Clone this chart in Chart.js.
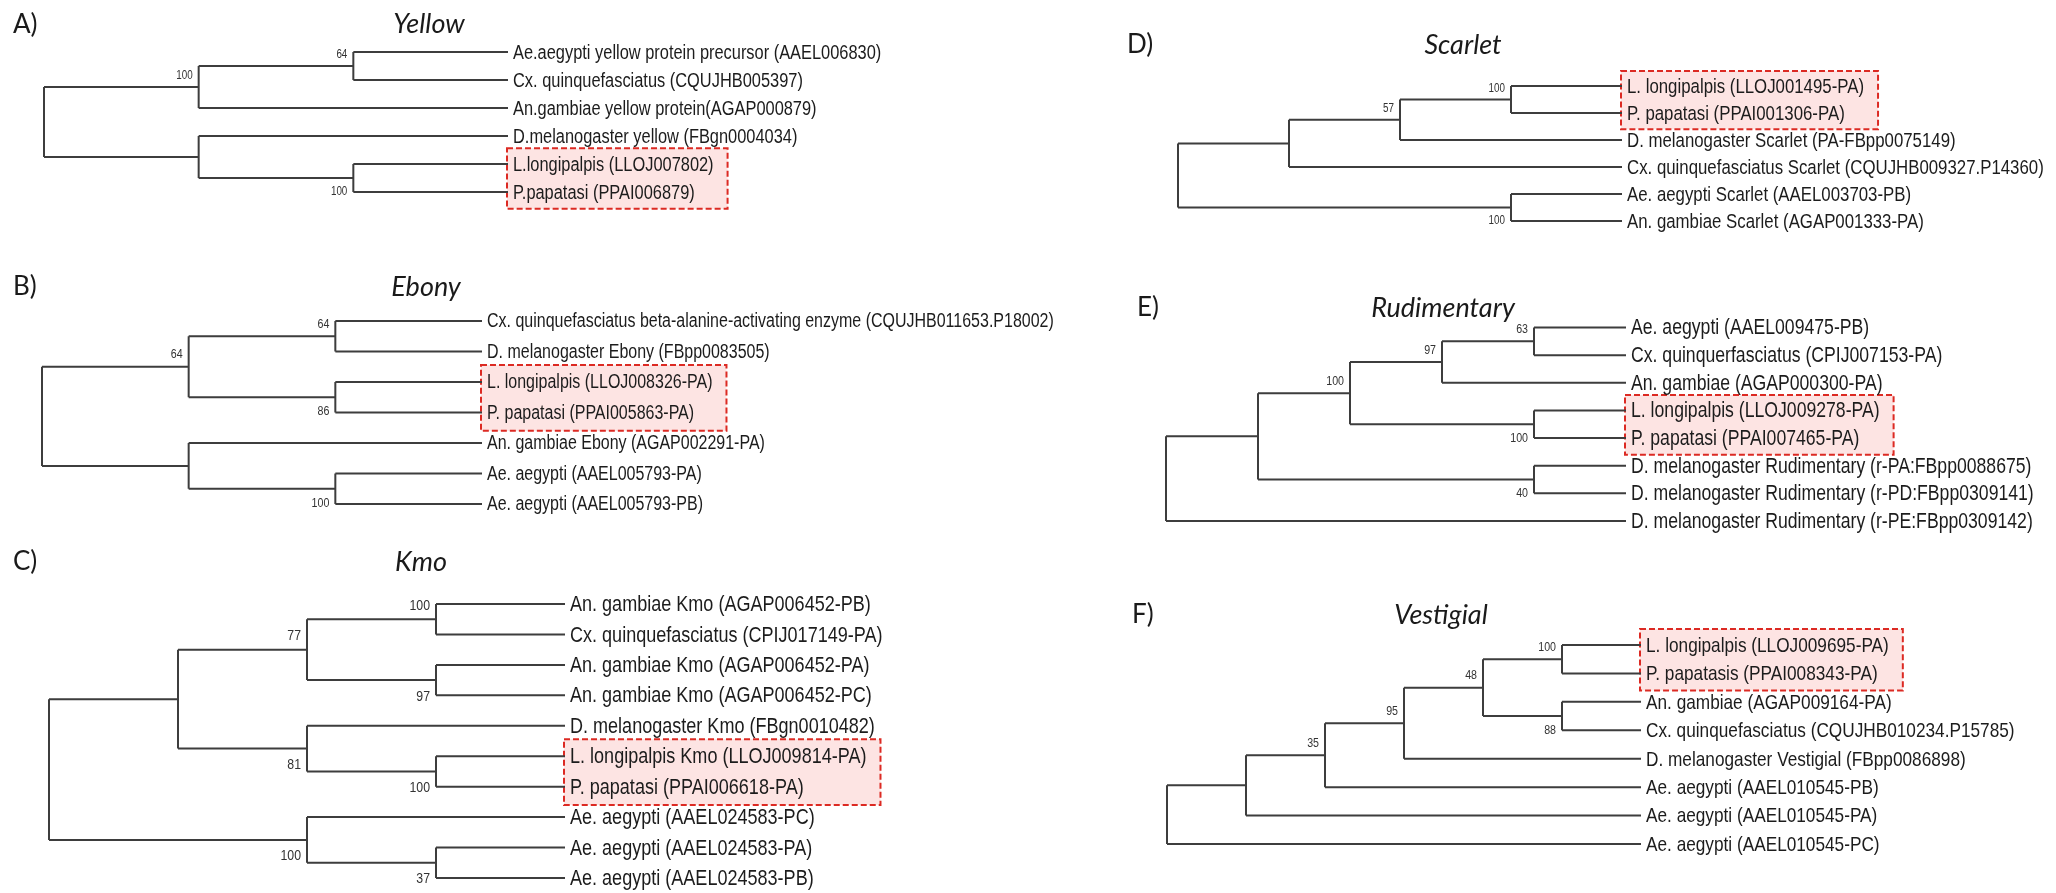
<!DOCTYPE html>
<html>
<head>
<meta charset="utf-8">
<script src="https://cdn.jsdelivr.net/npm/chart.js@4.4.1/dist/chart.umd.min.js"></script>
<style>
html, body { margin: 0; padding: 0; background: #fff; }
#page { position: relative; width: 2056px; height: 893px; overflow: hidden; }
#page canvas { position: absolute; }
</style>
</head>
<body>
<div id="page"></div>
<script>
// ---- data: leaf names, topology (newick with leaf indexes + bootstrap), highlighted pair ----
var yellowLeaves = [
    'Ae.aegypti yellow protein precursor (AAEL006830)',
    'Cx. quinquefasciatus (CQUJHB005397)',
    'An.gambiae yellow protein(AGAP000879)',
    'D.melanogaster yellow (FBgn0004034)',
    'L.longipalpis (LLOJ007802)',
    'P.papatasi (PPAI006879)'
];
var yellowTree = '(((0,1)64,2)100,(3,(4,5)100))';
var yellowBox = [4, 5];

var ebonyLeaves = [
    'Cx. quinquefasciatus beta-alanine-activating enzyme (CQUJHB011653.P18002)',
    'D. melanogaster Ebony (FBpp0083505)',
    'L. longipalpis (LLOJ008326-PA)',
    'P. papatasi (PPAI005863-PA)',
    'An. gambiae Ebony (AGAP002291-PA)',
    'Ae. aegypti (AAEL005793-PA)',
    'Ae. aegypti (AAEL005793-PB)'
];
var ebonyTree = '(((0,1)64,(2,3)86)64,(4,(5,6)100))';
var ebonyBox = [2, 3];

var kmoLeaves = [
    'An. gambiae Kmo (AGAP006452-PB)',
    'Cx. quinquefasciatus (CPIJ017149-PA)',
    'An. gambiae Kmo (AGAP006452-PA)',
    'An. gambiae Kmo (AGAP006452-PC)',
    'D. melanogaster Kmo (FBgn0010482)',
    'L. longipalpis Kmo (LLOJ009814-PA)',
    'P. papatasi (PPAI006618-PA)',
    'Ae. aegypti (AAEL024583-PC)',
    'Ae. aegypti (AAEL024583-PA)',
    'Ae. aegypti (AAEL024583-PB)'
];
var kmoTree = '((((0,1)100,(2,3)97)77,(4,(5,6)100)81),(7,(8,9)37)100)';
var kmoBox = [5, 6];

var scarletLeaves = [
    'L. longipalpis (LLOJ001495-PA)',
    'P. papatasi (PPAI001306-PA)',
    'D. melanogaster Scarlet (PA-FBpp0075149)',
    'Cx. quinquefasciatus Scarlet (CQUJHB009327.P14360)',
    'Ae. aegypti Scarlet (AAEL003703-PB)',
    'An. gambiae Scarlet (AGAP001333-PA)'
];
var scarletTree = '((((0,1)100,2)57,3),(4,5)100)';
var scarletBox = [0, 1];

var rudimentaryLeaves = [
    'Ae. aegypti (AAEL009475-PB)',
    'Cx. quinquerfasciatus (CPIJ007153-PA)',
    'An. gambiae (AGAP000300-PA)',
    'L. longipalpis (LLOJ009278-PA)',
    'P. papatasi (PPAI007465-PA)',
    'D. melanogaster Rudimentary (r-PA:FBpp0088675)',
    'D. melanogaster Rudimentary (r-PD:FBpp0309141)',
    'D. melanogaster Rudimentary (r-PE:FBpp0309142)'
];
var rudimentaryTree = '(((((0,1)63,2)97,(3,4)100)100,(5,6)40),7)';
var rudimentaryBox = [3, 4];

var vestigialLeaves = [
    'L. longipalpis (LLOJ009695-PA)',
    'P. papatasis (PPAI008343-PA)',
    'An. gambiae (AGAP009164-PA)',
    'Cx. quinquefasciatus (CQUJHB010234.P15785)',
    'D. melanogaster Vestigial (FBpp0086898)',
    'Ae. aegypti (AAEL010545-PB)',
    'Ae. aegypti (AAEL010545-PA)',
    'Ae. aegypti (AAEL010545-PC)'
];
var vestigialTree = '((((((0,1)100,(2,3)88)48,4)95,5)35,6),7)';
var vestigialBox = [0, 1];

// ---- layout of the six panels (page pixels) ----
var panels = [
    { letter: 'A)', title: 'Yellow', leaves: yellowLeaves, tree: yellowTree, box: yellowBox,
      left: 0, top: 0, width: 1110, height: 245, rootX: 44, leafX: 508, firstY: 52, lastY: 192,
      font: 20, bsFont: 12, letterX: 13, letterY: 25, titleX: 429, titleY: 24 },
    { letter: 'B)', title: 'Ebony', leaves: ebonyLeaves, tree: ebonyTree, box: ebonyBox,
      left: 0, top: 262, width: 1110, height: 270, rootX: 42, leafX: 482, firstY: 321, lastY: 504,
      font: 19.5, bsFont: 13, letterX: 13, letterY: 287, titleX: 426, titleY: 287 },
    { letter: 'C)', title: 'Kmo', leaves: kmoLeaves, tree: kmoTree, box: kmoBox,
      left: 0, top: 540, width: 1110, height: 353, rootX: 49, leafX: 565, firstY: 604, lastY: 878,
      font: 22, bsFont: 15, letterX: 13, letterY: 562, titleX: 421, titleY: 562 },
    { letter: 'D)', title: 'Scarlet', leaves: scarletLeaves, tree: scarletTree, box: scarletBox,
      left: 1110, top: 0, width: 946, height: 250, rootX: 1178, leafX: 1622, firstY: 86, lastY: 221,
      font: 20.5, bsFont: 12, letterX: 1127, letterY: 45, titleX: 1463, titleY: 45 },
    { letter: 'E)', title: 'Rudimentary', leaves: rudimentaryLeaves, tree: rudimentaryTree, box: rudimentaryBox,
      left: 1110, top: 280, width: 946, height: 270, rootX: 1166, leafX: 1626, firstY: 327.5, lastY: 521,
      font: 21.5, bsFont: 13, letterX: 1137, letterY: 308, titleX: 1443, titleY: 308 },
    { letter: 'F)', title: 'Vestigial', leaves: vestigialLeaves, tree: vestigialTree, box: vestigialBox,
      left: 1110, top: 590, width: 946, height: 303, rootX: 1167, leafX: 1641, firstY: 645, lastY: 844,
      font: 21, bsFont: 13, letterX: 1132, letterY: 615, titleX: 1441, titleY: 615 }
];

var NARROW = 0.82;
var LABEL_FONT = '"Liberation Sans", Arial, sans-serif';
var HEAD_FONT = 'Lato, "Open Sans", sans-serif';

function parseNewick(str) {
    var pos = 0;
    function readNum() {
        var m = /^\d+/.exec(str.slice(pos));
        if (!m) return null;
        pos += m[0].length;
        return m[0];
    }
    function node() {
        var n;
        if (str[pos] == '(') {
            pos++;
            n = { children: [node()] };
            while (str[pos] == ',') {
                pos++;
                n.children.push(node());
            }
            pos++;
            n.support = readNum();
        } else {
            n = { leaf: parseInt(readNum()) };
        }
        return n;
    }
    return node();
}

// cladogram: x = height above leaves, y = leaf index / midpoint of children
function place(n) {
    if (n.children === undefined) {
        n.h = 0;
        n.y = n.leaf;
        return;
    }
    var h = 0;
    n.children.forEach(function (c) {
        place(c);
        h = Math.max(h, c.h);
    });
    n.h = h + 1;
    n.y = (n.children[0].y + n.children[n.children.length - 1].y) / 2;
}

function collect(n, segs, marks) {
    if (n.children === undefined) return;
    var first = n.children[0], last = n.children[n.children.length - 1];
    segs.push({ x: n.h, y: first.y }, { x: n.h, y: last.y }, { x: null, y: null });
    n.children.forEach(function (c, i) {
        segs.push({ x: n.h, y: c.y }, { x: c.h, y: c.y }, { x: null, y: null });
        if (c.children !== undefined && c.support) {
            marks.push({ x: c.h, y: c.y, text: c.support, above: i == 0 });
        }
        collect(c, segs, marks);
    });
}

function narrowText(ctx, text, x, y, size, align) {
    ctx.save();
    ctx.font = size + 'px ' + LABEL_FONT;
    var w = ctx.measureText(text).width * NARROW;
    ctx.translate(align == 'right' ? x - w : x, y);
    ctx.scale(NARROW, 1);
    ctx.fillText(text, 0, 0);
    ctx.restore();
    return w;
}

var treeText = {
    id: 'treeText',
    beforeDatasetsDraw: function (chart, args, p) {
        var ctx = chart.ctx;
        var xs = chart.scales.x, ys = chart.scales.y;
        var step = ys.getPixelForValue(1) - ys.getPixelForValue(0);
        var lx = xs.getPixelForValue(0);
        var w = 0;
        ctx.save();
        ctx.font = p.font + 'px ' + LABEL_FONT;
        p.box.forEach(function (i) {
            w = Math.max(w, ctx.measureText(p.leaves[i]).width * NARROW);
        });
        var top = ys.getPixelForValue(p.box[0]) - step * 0.56;
        var bottom = ys.getPixelForValue(p.box[1]) + step * 0.6;
        var left = lx - 1;
        var right = lx + 5 + w + 14;
        ctx.fillStyle = '#fde4e3';
        ctx.fillRect(left, top, right - left, bottom - top);
        ctx.strokeStyle = '#dc2a23';
        ctx.lineWidth = 2;
        ctx.setLineDash([6, 3]);
        ctx.strokeRect(left, top, right - left, bottom - top);
        ctx.restore();
    },
    afterDatasetsDraw: function (chart, args, p) {
        var ctx = chart.ctx;
        var xs = chart.scales.x, ys = chart.scales.y;
        ctx.save();
        ctx.fillStyle = '#1c1c1c';
        ctx.textBaseline = 'middle';
        var lx = xs.getPixelForValue(0);
        p.leaves.forEach(function (name, i) {
            narrowText(ctx, name, lx + 5, ys.getPixelForValue(i) + 1, p.font, 'left');
        });
        ctx.fillStyle = '#333';
        p.marks.forEach(function (m) {
            var y = ys.getPixelForValue(m.y);
            y = m.above ? y - (p.bsFont * 0.85 + 1) : y + (p.bsFont * 0.95 + 2);
            narrowText(ctx, m.text, xs.getPixelForValue(m.x) - 6, y, p.bsFont, 'right');
        });
        ctx.fillStyle = '#1a1a1a';
        ctx.textAlign = 'left';
        ctx.font = '26px ' + HEAD_FONT;
        ctx.fillText(p.letter, p.letterX - p.left, p.letterY - p.top);
        ctx.textAlign = 'center';
        ctx.font = 'italic 27px ' + HEAD_FONT;
        ctx.fillText(p.title, p.titleX - p.left, p.titleY - p.top);
        ctx.restore();
    }
};

var page = document.getElementById('page');
var charts = [];

panels.forEach(function (p) {
    var root = parseNewick(p.tree);
    place(root);
    var segs = [], marks = [];
    collect(root, segs, marks);
    p.marks = marks;

    var canvas = document.createElement('canvas');
    canvas.width = p.width;
    canvas.height = p.height;
    canvas.style.left = p.left + 'px';
    canvas.style.top = p.top + 'px';
    canvas.style.width = p.width + 'px';
    canvas.style.height = p.height + 'px';
    page.appendChild(canvas);

    charts.push(new Chart(canvas, {
        type: 'scatter',
        data: {
            datasets: [{
                data: segs,
                showLine: true,
                spanGaps: false,
                borderColor: '#3d3d3d',
                borderWidth: 2,
                pointRadius: 0,
                clip: false
            }]
        },
        options: {
            responsive: false,
            animation: false,
            devicePixelRatio: 1,
            layout: {
                padding: {
                    left: p.rootX - p.left,
                    right: p.left + p.width - p.leafX,
                    top: p.firstY - p.top,
                    bottom: p.top + p.height - p.lastY
                }
            },
            scales: {
                x: { type: 'linear', display: false, reverse: true, min: 0, max: root.h },
                y: { type: 'linear', display: false, reverse: true, min: 0, max: p.leaves.length - 1 }
            },
            plugins: {
                legend: { display: false },
                tooltip: { enabled: false },
                treeText: p
            }
        },
        plugins: [treeText]
    }));
});
</script>
</body>
</html>
